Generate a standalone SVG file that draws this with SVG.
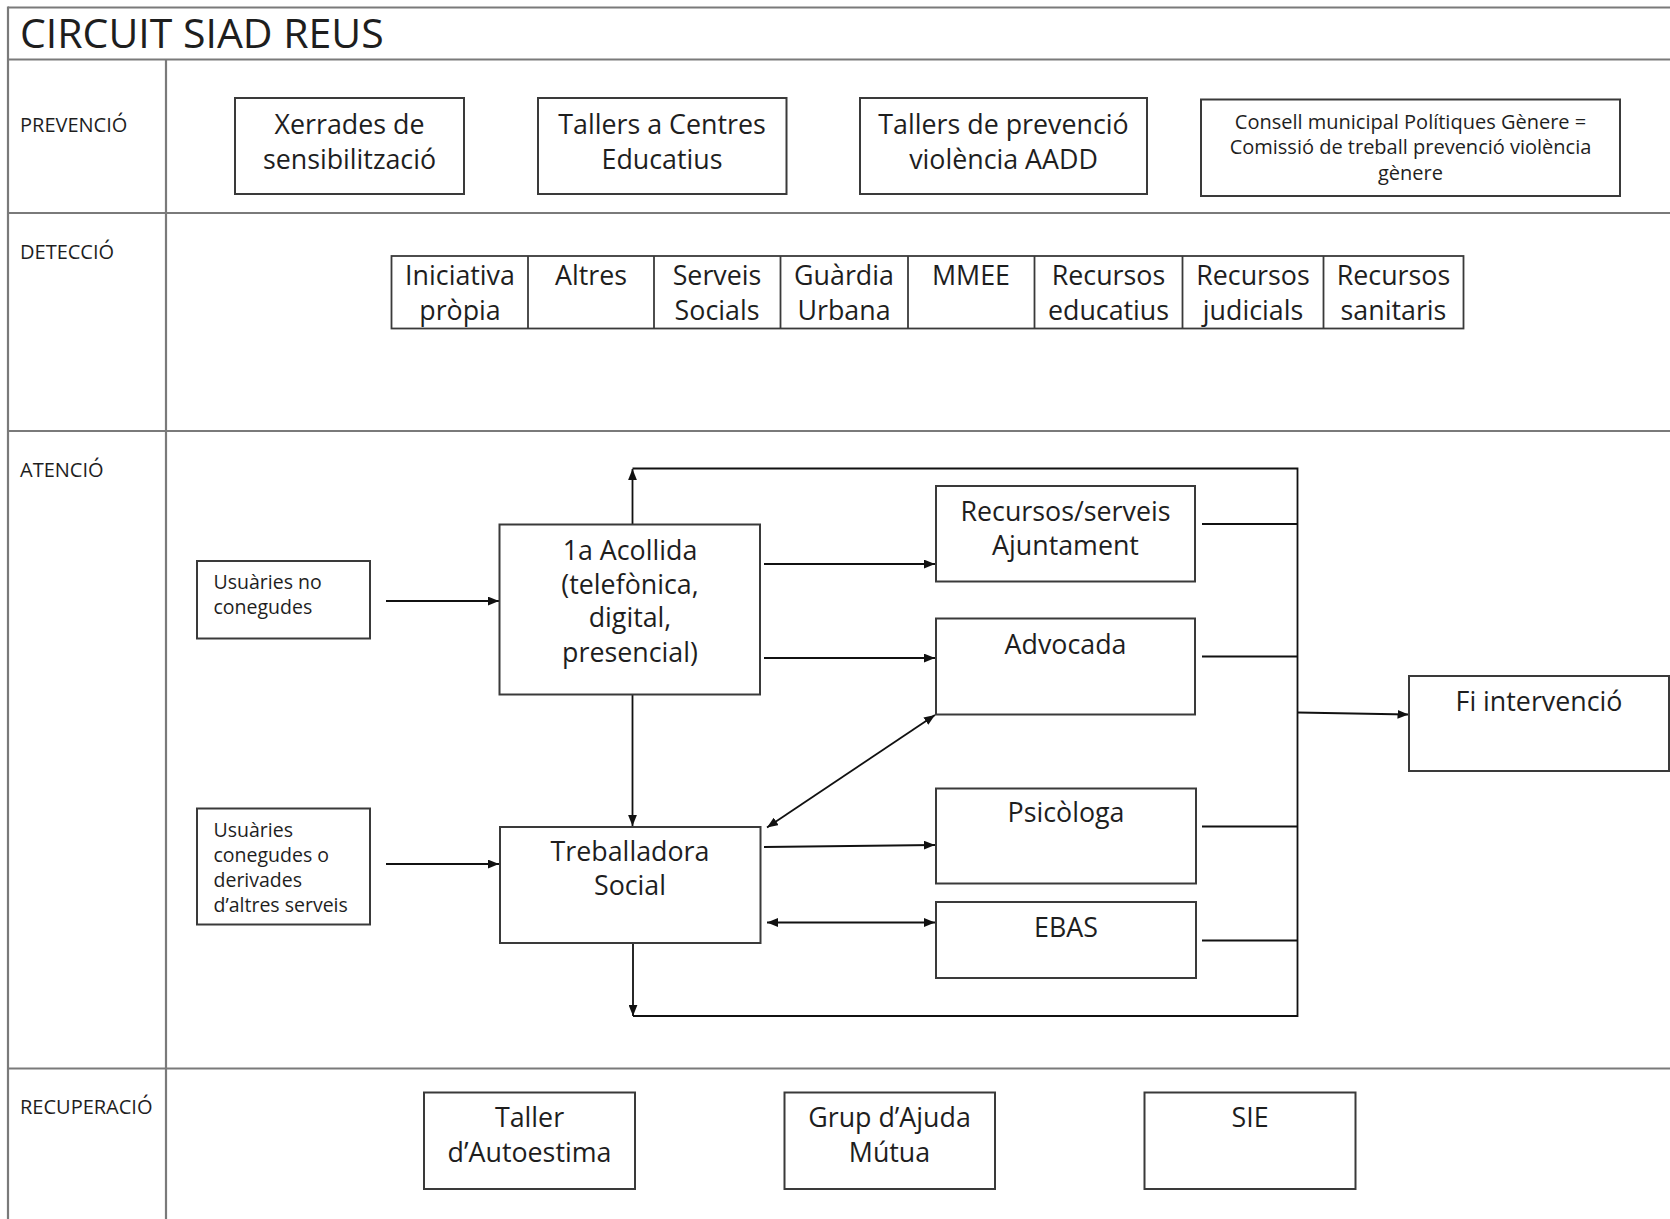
<svg xmlns="http://www.w3.org/2000/svg" width="1670" height="1219" viewBox="0 0 1670 1219">
<style>
.frame{stroke:#7a7a7a;stroke-width:2.2;fill:none}
.box{fill:#fff;stroke:#3a3a3a;stroke-width:2}
.cell{fill:none;stroke:#3a3a3a;stroke-width:1.8}
.con{stroke:#111;stroke-width:1.8;fill:none}
text{font-family:"Open Sans","Noto Sans","DejaVu Sans",sans-serif;fill:#1e1e1e}
.t{font-size:41px}
.lab{font-size:20px}
.big{font-size:26.8px;text-anchor:middle}
.mid{font-size:20px;text-anchor:middle}
.sm{font-size:19.5px}
</style>
<defs>
<marker id="ah" viewBox="0 0 10 8" refX="10" refY="4" markerWidth="11" markerHeight="9" markerUnits="userSpaceOnUse" orient="auto-start-reverse">
<path d="M0,0 L10,4 L0,8 z" fill="#111"/>
</marker>
</defs>
<rect x="0" y="0" width="1670" height="1219" fill="#fff"/>
<g id="frame">
<line class="frame" x1="8" y1="7.5" x2="1670" y2="7.5"/>
<line class="frame" x1="8" y1="59.5" x2="1670" y2="59.5"/>
<line class="frame" x1="8" y1="213" x2="1670" y2="213"/>
<line class="frame" x1="8" y1="431" x2="1670" y2="431"/>
<line class="frame" x1="8" y1="1068.5" x2="1670" y2="1068.5"/>
<line class="frame" x1="8" y1="6.5" x2="8" y2="1219"/>
<line class="frame" x1="166" y1="59.5" x2="166" y2="1219"/>
<text class="t" x="20" y="48">CIRCUIT SIAD REUS</text>
<text class="lab" x="20" y="131.5">PREVENCIÓ</text>
<text class="lab" x="20" y="258.5">DETECCIÓ</text>
<text class="lab" x="20" y="476.5">ATENCIÓ</text>
<text class="lab" x="20" y="1114">RECUPERACIÓ</text>
</g>
<g id="xerrades">
<rect class="box" x="235" y="98" width="229" height="96"/>
<text class="big" x="349.5" y="133.5">Xerrades de</text>
<text class="big" x="349.5" y="168.5">sensibilització</text>
</g>
<g id="tallers-centres">
<rect class="box" x="538" y="98" width="248.5" height="96"/>
<text class="big" x="662" y="133.5">Tallers a Centres</text>
<text class="big" x="662" y="168.5">Educatius</text>
</g>
<g id="tallers-prevencio">
<rect class="box" x="860" y="98" width="287" height="96"/>
<text class="big" x="1003.5" y="133.5">Tallers de prevenció</text>
<text class="big" x="1003.5" y="168.5">violència AADD</text>
</g>
<g id="consell">
<rect class="box" x="1201" y="99.5" width="419" height="96.5"/>
<text class="mid" x="1410.5" y="128.5">Consell municipal Polítiques Gènere =</text>
<text class="mid" x="1410.5" y="154">Comissió de treball prevenció violència</text>
<text class="mid" x="1410.5" y="180">gènere</text>
</g>
<g id="deteccio-taula">
<rect class="cell" x="391.5" y="256" width="1072" height="72.5"/>
<line class="cell" x1="528" y1="256" x2="528" y2="328.5"/>
<line class="cell" x1="654" y1="256" x2="654" y2="328.5"/>
<line class="cell" x1="780.5" y1="256" x2="780.5" y2="328.5"/>
<line class="cell" x1="908" y1="256" x2="908" y2="328.5"/>
<line class="cell" x1="1034.5" y1="256" x2="1034.5" y2="328.5"/>
<line class="cell" x1="1182.5" y1="256" x2="1182.5" y2="328.5"/>
<line class="cell" x1="1323.5" y1="256" x2="1323.5" y2="328.5"/>
<text class="big" x="460" y="285">Iniciativa</text>
<text class="big" x="460" y="320">pròpia</text>
<text class="big" x="591" y="285">Altres</text>
<text class="big" x="717" y="285">Serveis</text>
<text class="big" x="717" y="320">Socials</text>
<text class="big" x="844" y="285">Guàrdia</text>
<text class="big" x="844" y="320">Urbana</text>
<text class="big" x="971" y="285">MMEE</text>
<text class="big" x="1108.5" y="285">Recursos</text>
<text class="big" x="1108.5" y="320">educatius</text>
<text class="big" x="1253" y="285">Recursos</text>
<text class="big" x="1253" y="320">judicials</text>
<text class="big" x="1393.5" y="285">Recursos</text>
<text class="big" x="1393.5" y="320">sanitaris</text>
</g>
<g id="connectors">
<line class="con" x1="386" y1="601" x2="499" y2="601" marker-end="url(#ah)"/>
<line class="con" x1="386" y1="864" x2="499" y2="864" marker-end="url(#ah)"/>
<line class="con" x1="764" y1="564" x2="935" y2="564" marker-end="url(#ah)"/>
<line class="con" x1="764" y1="658" x2="935" y2="658" marker-end="url(#ah)"/>
<line class="con" x1="632.5" y1="524" x2="632.5" y2="469" marker-end="url(#ah)"/>
<polyline class="con" points="632.5,468.5 1297.5,468.5 1297.5,1016 633,1016"/>
<line class="con" x1="632.5" y1="694.5" x2="632.5" y2="826" marker-end="url(#ah)"/>
<line class="con" x1="767" y1="827.5" x2="935" y2="715" marker-start="url(#ah)" marker-end="url(#ah)"/>
<line class="con" x1="764" y1="847" x2="935" y2="845" marker-end="url(#ah)"/>
<line class="con" x1="767" y1="922.5" x2="935" y2="922.5" marker-start="url(#ah)" marker-end="url(#ah)"/>
<line class="con" x1="633" y1="943" x2="633" y2="1016" marker-end="url(#ah)"/>
<line class="con" x1="1202" y1="524" x2="1297.5" y2="524"/>
<line class="con" x1="1202" y1="656.5" x2="1297.5" y2="656.5"/>
<line class="con" x1="1202" y1="826.5" x2="1297.5" y2="826.5"/>
<line class="con" x1="1202" y1="940.5" x2="1297.5" y2="940.5"/>
<line class="con" x1="1297.5" y1="712.5" x2="1408.5" y2="714.5" marker-end="url(#ah)"/>
</g>
<g id="usuaries-no">
<rect class="box" x="197" y="561" width="173" height="77.5"/>
<text class="sm" x="213.5" y="588.5">Usuàries no</text>
<text class="sm" x="213.5" y="613.5">conegudes</text>
</g>
<g id="usuaries-conegudes">
<rect class="box" x="197" y="808.5" width="173" height="116"/>
<text class="sm" x="213.5" y="836.5">Usuàries</text>
<text class="sm" x="213.5" y="861.5">conegudes o</text>
<text class="sm" x="213.5" y="886.5">derivades</text>
<text class="sm" x="213.5" y="911.5">d’altres serveis</text>
</g>
<g id="acollida">
<rect class="box" x="499.5" y="524.5" width="260.5" height="170"/>
<text class="big" x="630" y="559.5">1a Acollida</text>
<text class="big" x="630" y="593.5">(telefònica,</text>
<text class="big" x="630" y="627">digital,</text>
<text class="big" x="630" y="661.5">presencial)</text>
</g>
<g id="treballadora">
<rect class="box" x="500" y="827" width="260.5" height="116"/>
<text class="big" x="630" y="861">Treballadora</text>
<text class="big" x="630" y="895">Social</text>
</g>
<g id="recursos-ajuntament">
<rect class="box" x="936" y="486" width="259" height="95.5"/>
<text class="big" x="1065.5" y="521">Recursos/serveis</text>
<text class="big" x="1065.5" y="555">Ajuntament</text>
</g>
<g id="advocada">
<rect class="box" x="936" y="618.5" width="259" height="96"/>
<text class="big" x="1065.5" y="653.5">Advocada</text>
</g>
<g id="psicologa">
<rect class="box" x="936" y="788.5" width="260" height="95"/>
<text class="big" x="1066" y="822">Psicòloga</text>
</g>
<g id="ebas">
<rect class="box" x="936" y="902" width="260" height="76"/>
<text class="big" x="1066" y="937">EBAS</text>
</g>
<g id="fi-intervencio">
<rect class="box" x="1409" y="676" width="260" height="95"/>
<text class="big" x="1539" y="711">Fi intervenció</text>
</g>
<g id="taller-autoestima">
<rect class="box" x="424" y="1092.5" width="211" height="96.5"/>
<text class="big" x="529.5" y="1127">Taller</text>
<text class="big" x="529.5" y="1162">d’Autoestima</text>
</g>
<g id="grup-ajuda">
<rect class="box" x="784.5" y="1092.5" width="210.5" height="96.5"/>
<text class="big" x="889.5" y="1127">Grup d’Ajuda</text>
<text class="big" x="889.5" y="1162">Mútua</text>
</g>
<g id="sie">
<rect class="box" x="1144.5" y="1092.5" width="211" height="96.5"/>
<text class="big" x="1250" y="1127">SIE</text>
</g>
</svg>
